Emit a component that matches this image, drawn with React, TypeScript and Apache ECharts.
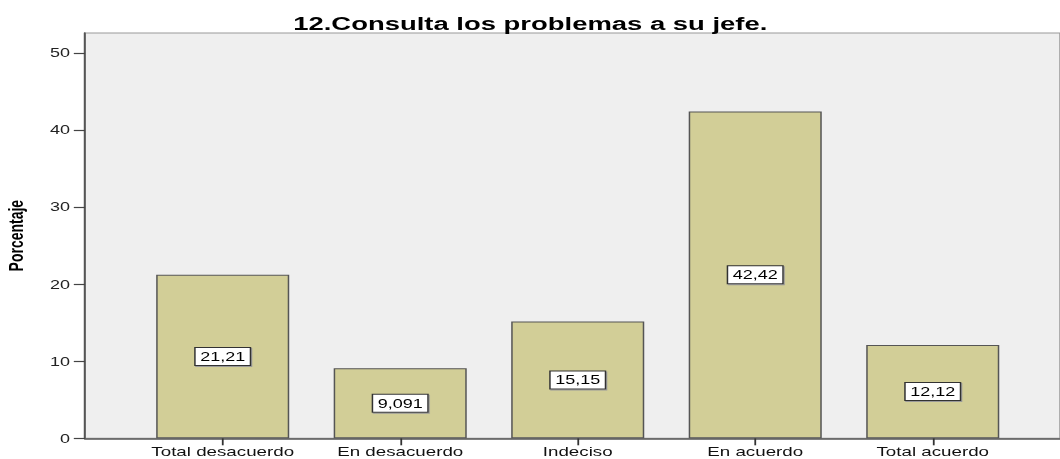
import React, { useEffect, useRef } from "react";
import * as echarts from "echarts";

const categories = ["Total desacuerdo", "En desacuerdo", "Indeciso", "En acuerdo", "Total acuerdo"];
const percentages = [21.21, 9.091, 15.15, 42.42, 12.12];
const yTicks = [0, 10, 20, 30, 40, 50];
const titleText = "12.Consulta los problemas a su jefe.";
const yAxisName = "Porcentaje";

const STRETCH = 1.5;
const WIDTH = 1060 / STRETCH;
const HEIGHT = 459;
const FONT = "Arial, 'Liberation Sans', Helvetica, sans-serif";

export default function App() {
  const ref = useRef<HTMLDivElement>(null);
  useEffect(() => {
    if (!ref.current) return;
    const chart = echarts.init(ref.current, undefined, { renderer: "svg" });
    const top = 33;
    const height = 405.3;
    const yMax = 52.6;
    chart.setOption({
      animation: false,
      title: {
        text: titleText,
        left: "center",
        top: 10,
        textStyle: { fontFamily: FONT, fontSize: 18.3, fontWeight: "bold", color: "#000" },
      },
      grid: [
        {
          left: 56.7,
          top,
          width: WIDTH - 56.7,
          height,
          show: true,
          backgroundColor: "#efefef",
          borderColor: "#999",
          borderWidth: 1,
          containLabel: false,
          outerBoundsMode: "none",
        },
        {
          left: 89.3,
          top,
          width: 591.7,
          height,
          containLabel: false,
          outerBoundsMode: "none",
        },
      ],
      xAxis: [
        {
          gridIndex: 0,
          type: "value",
          min: 0,
          max: 1,
          axisLine: { show: true, lineStyle: { color: "#555", width: 1.6 } },
          axisTick: { show: false },
          axisLabel: { show: false },
          splitLine: { show: false },
        },
        {
          gridIndex: 1,
          type: "category",
          data: categories,
          boundaryGap: true,
          axisLine: { show: false },
          axisTick: { show: true, alignWithLabel: true, interval: 0, length: 7, lineStyle: { color: "#333", width: 1.2 } },
          axisLabel: { interval: 0, hideOverlap: false, fontFamily: FONT, fontSize: 12.5, color: "#111", margin: 7 },
        },
      ],
      yAxis: [
        {
          gridIndex: 0,
          type: "value",
          min: 0,
          max: yMax,
          interval: 10,
          name: yAxisName,
          nameLocation: "middle",
          nameRotate: 90,
          nameGap: 39,
          nameTextStyle: { fontFamily: FONT, fontSize: 14, fontWeight: "bold", color: "#000" },
          axisLine: { show: true, lineStyle: { color: "#555", width: 1.3 } },
          axisTick: { show: true, length: 7.5, customValues: yTicks, lineStyle: { color: "#444", width: 1.2 } },
          axisLabel: { fontFamily: FONT, fontSize: 12, color: "#222", margin: 10, customValues: yTicks },
          splitLine: { show: false },
        },
        {
          gridIndex: 1,
          type: "value",
          min: 0,
          max: yMax,
          show: false,
          splitLine: { show: false },
        },
      ],
      series: [
        {
          type: "bar",
          xAxisIndex: 1,
          yAxisIndex: 1,
          data: percentages,
          barWidth: 88.7,
          itemStyle: { color: "#d2ce97", borderColor: "#555", borderWidth: 1 },
          label: {
            show: true,
            position: "inside",
            formatter: (p: any) => String(p.value).replace(".", ","),
            fontFamily: FONT,
            fontSize: 12,
            color: "#000",
            backgroundColor: "#fff",
            borderColor: "#333",
            borderWidth: 1,
            padding: [2, 3, 1, 3],
            lineHeight: 14,
            shadowColor: "#999",
            shadowOffsetX: 0.7,
            shadowOffsetY: 1,
            shadowBlur: 0,
          },
        },
      ],
    });
    return () => chart.dispose();
  }, []);
  return (
    <div
      ref={ref}
      style={{
        position: "fixed",
        left: 0,
        top: 0,
        width: WIDTH + "px",
        height: HEIGHT + "px",
        transform: `scaleX(${STRETCH})`,
        transformOrigin: "0 0",
        background: "#fff",
      }}
    />
  );
}
